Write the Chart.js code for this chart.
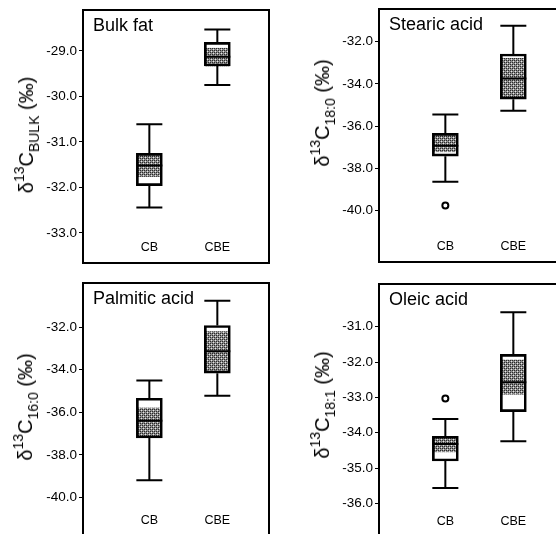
<!DOCTYPE html>
<html><head><meta charset="utf-8">
<script src="https://cdn.jsdelivr.net/npm/chart.js@4/dist/chart.umd.min.js"></script>
<style>
html,body{margin:0;padding:0;width:556px;height:534px;overflow:hidden;background:#fff;position:relative;}
canvas{position:absolute;}
.yt{position:absolute;white-space:nowrap;font-family:"Liberation Sans",Arial,sans-serif;font-size:20px;color:#000;transform:translate(-50%,-50%) rotate(-90deg);line-height:1;}
.yt sup,.yt sub{font-size:14px;line-height:0;position:relative;vertical-align:baseline;}
.yt sup{top:-0.65em;}
.yt sub{top:0.4em;}
</style>
</head><body>
<script>
// ---- data ----
const categories = ['CB', 'CBE'];
const catPos = [1, 2];
const panelTitles = ['Bulk fat', 'Stearic acid', 'Palmitic acid', 'Oleic acid'];
const axisSubs = ['BULK', '18:0', '16:0', '18:1'];
const yTicks = [
  [-29, -30, -31, -32, -33],
  [-32, -34, -36, -38, -40],
  [-32, -34, -36, -38, -40],
  [-31, -32, -33, -34, -35, -36]
];
const yMin = [-33.66, -42.43, -41.82, -36.95];
const yMax = [-28.10, -30.45, -29.92, -29.79];
// per panel: [CB, CBE]
const whiskerLow  = [[-32.44, -29.75], [-38.63, -35.27], [-39.20, -35.22], [-35.56, -34.24]];
const q1          = [[-31.96, -29.33], [-37.42, -34.72], [-37.21, -34.16], [-34.80, -33.40]];
const shadeLow    = [[-31.76, -29.33], [-37.21, -34.68], [-37.10, -34.04], [-34.54, -32.91]];
const median      = [[-31.52, -29.13], [-36.93, -33.74], [-36.40, -33.13], [-34.32, -32.57]];
const shadeHigh   = [[-31.25, -28.94], [-36.38, -32.79], [-35.80, -32.20], [-34.13, -31.94]];
const q3          = [[-31.25, -28.81], [-36.34, -32.58], [-35.34, -31.92], [-34.10, -31.78]];
const whiskerHigh = [[-30.61, -28.53], [-35.44, -31.24], [-34.51, -30.75], [-33.61, -30.59]];
const outlierCat  = [[], [0], [], [0]];
const outlierVal  = [[], [-39.76], [], [-33.03]];

// ---- layout ----
const panels = [
  {left: 0,   top: 0,   padTop: 10, padBottom: 7, titleX: 25.5, titleY: 135},
  {left: 296, top: 0,   padTop: 9,  padBottom: 8, titleX: 322,  titleY: 113},
  {left: 0,   top: 273, padTop: 10, padBottom: 7, titleX: 25,   titleY: 407},
  {left: 296, top: 274, padTop: 10, padBottom: 7, titleX: 322,  titleY: 405}
];
const W = 278, H = 270, BOX = 26;
const FONT = '"Liberation Sans", Arial, sans-serif';

// shading pattern
const pc = document.createElement('canvas');
pc.width = 4; pc.height = 4;
const pctx = pc.getContext('2d');
pctx.fillStyle = '#8c8c8c'; pctx.fillRect(0, 0, 4, 4);
pctx.fillStyle = '#2a2a2a';
pctx.fillRect(0, 0, 1, 1); pctx.fillRect(2, 2, 1, 1); pctx.fillRect(2, 0, 1, 1); pctx.fillRect(0, 2, 1, 1);
pctx.fillStyle = '#e6e6e6';
pctx.fillRect(1, 1, 1, 1); pctx.fillRect(3, 3, 1, 1);
const pattern = pctx.createPattern(pc, 'repeat');

const boxPlugin = {
  id: 'boxExtras',
  afterDatasetsDraw(chart, args, opts) {
    const i = opts.panel;
    const ctx = chart.ctx, xs = chart.scales.x, ys = chart.scales.y;
    ctx.save();
    ctx.strokeStyle = '#000';
    ctx.lineWidth = 2;
    categories.forEach((c, j) => {
      const x = xs.getPixelForValue(catPos[j]);
      const hw = BOX / 2;
      const yq1 = ys.getPixelForValue(q1[i][j]);
      const yq3 = ys.getPixelForValue(q3[i][j]);
      const ywl = ys.getPixelForValue(whiskerLow[i][j]);
      const ywh = ys.getPixelForValue(whiskerHigh[i][j]);
      const ym = ys.getPixelForValue(median[i][j]);
      ctx.beginPath();
      ctx.moveTo(x, yq3); ctx.lineTo(x, ywh);
      ctx.moveTo(x - hw, ywh); ctx.lineTo(x + hw, ywh);
      ctx.moveTo(x, yq1); ctx.lineTo(x, ywl);
      ctx.moveTo(x - hw, ywl); ctx.lineTo(x + hw, ywl);
      ctx.moveTo(x - hw, ym); ctx.lineTo(x + hw, ym);
      ctx.stroke();
    });
    ctx.restore();
  },
  afterDraw(chart, args, opts) {
    const i = opts.panel;
    const ctx = chart.ctx, a = chart.chartArea, xs = chart.scales.x;
    ctx.save();
    ctx.strokeStyle = '#000';
    ctx.lineWidth = 2;
    ctx.strokeRect(a.left, a.top, a.right - a.left, a.bottom - a.top);
    ctx.fillStyle = '#000';
    ctx.font = '18px ' + FONT;
    ctx.textAlign = 'left';
    ctx.textBaseline = 'alphabetic';
    ctx.fillText(panelTitles[i], a.left + 10, a.top + 21);
    ctx.font = '12.5px ' + FONT;
    ctx.textAlign = 'center';
    ctx.textBaseline = 'middle';
    categories.forEach((c, j) => {
      ctx.fillText(c, xs.getPixelForValue(catPos[j]), a.bottom - 15);
    });
    ctx.restore();
  }
};

panels.forEach((p, i) => {
  const cv = document.createElement('canvas');
  cv.width = W; cv.height = H;
  cv.style.left = p.left + 'px'; cv.style.top = p.top + 'px';
  cv.style.width = W + 'px'; cv.style.height = H + 'px';
  document.body.appendChild(cv);

  const t = document.createElement('div');
  t.className = 'yt';
  t.style.left = p.titleX + 'px';
  t.style.top = p.titleY + 'px';
  t.innerHTML = 'δ<sup>13</sup>C<sub>' + axisSubs[i] + '</sub> (‰)';
  document.body.appendChild(t);

  const shade = {
    type: 'bar',
    data: categories.map((c, j) => ({x: catPos[j], y: [shadeLow[i][j], shadeHigh[i][j]]})),
    backgroundColor: pattern, borderWidth: 0, barThickness: BOX - 2, grouped: false, order: 3
  };
  const box = {
    type: 'bar',
    data: categories.map((c, j) => ({x: catPos[j], y: [q1[i][j], q3[i][j]]})),
    backgroundColor: 'rgba(0,0,0,0)', borderColor: '#000', borderWidth: 2, borderSkipped: false,
    barThickness: BOX, grouped: false, order: 2
  };
  const out = {
    type: 'scatter',
    data: outlierCat[i].map((c, k) => ({x: catPos[c], y: outlierVal[i][k]})),
    pointRadius: 3, pointBorderWidth: 2, pointBackgroundColor: '#fff', pointBorderColor: '#000', order: 1
  };

  new Chart(cv, {
    type: 'bar',
    data: {datasets: [shade, box, out]},
    plugins: [boxPlugin],
    options: {
      responsive: false, animation: false, devicePixelRatio: 1,
      layout: {padding: {top: p.padTop, bottom: p.padBottom, right: 9, left: 0}},
      plugins: {legend: {display: false}, tooltip: {enabled: false}, boxExtras: {panel: i}},
      scales: {
        x: {type: 'linear', min: 0.48, max: 2.304, display: false},
        y: {
          type: 'linear', min: yMin[i], max: yMax[i],
          afterFit: s => { s.width = 83; s.paddingTop = 0; s.paddingBottom = 0; },
          afterBuildTicks: s => { s.ticks = yTicks[i].map(v => ({value: v})); },
          ticks: {
            color: '#000', padding: 2, font: {family: FONT, size: 13.5},
            callback: v => Number(v).toFixed(1)
          },
          grid: {display: true, drawOnChartArea: false, drawTicks: true, tickLength: 4, color: '#000', lineWidth: 1},
          border: {display: false}
        }
      }
    }
  });
});
</script>
</body></html>
